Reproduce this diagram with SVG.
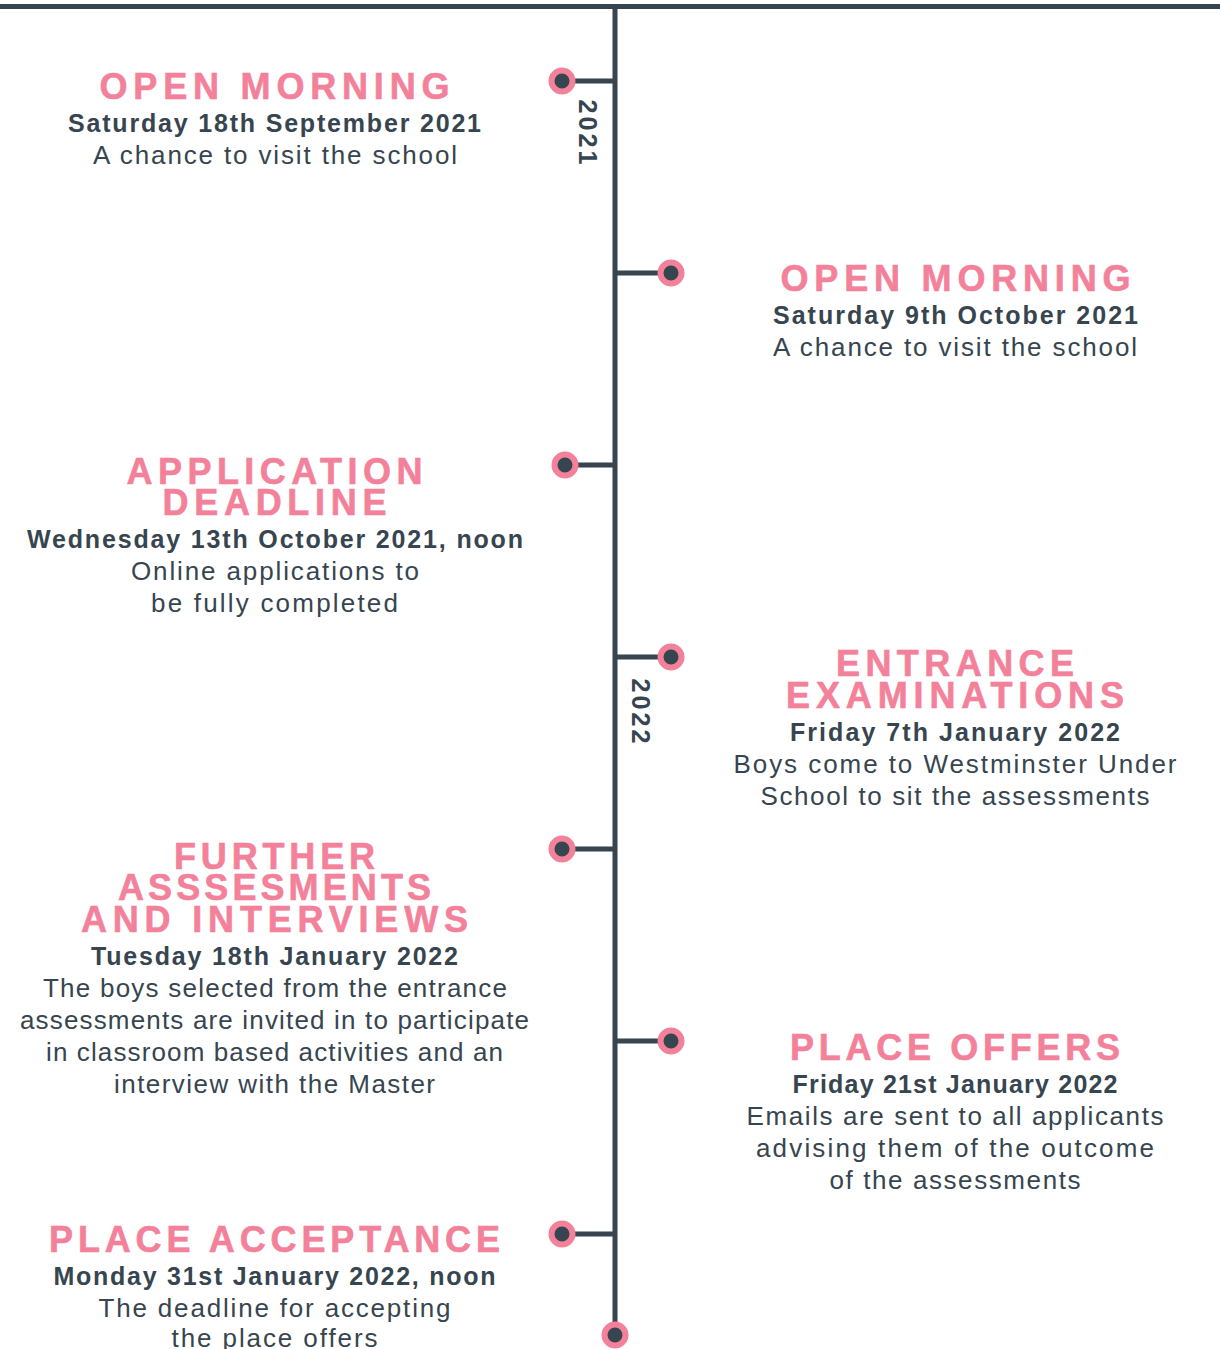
<svg xmlns="http://www.w3.org/2000/svg" width="1220" height="1349" viewBox="0 0 1220 1349">
<style>
.h{font-family:"Liberation Sans",Arial,sans-serif;font-weight:bold;font-size:36px;fill:#F3819A;stroke:#F3819A;stroke-width:0.6;text-anchor:middle}
.d{font-family:"Liberation Sans",Arial,sans-serif;font-weight:bold;font-size:25px;fill:#36454F;text-anchor:middle}
.t{font-family:"Liberation Sans",Arial,sans-serif;font-size:26px;fill:#36454F;text-anchor:middle}
.y{font-family:"Liberation Sans",Arial,sans-serif;font-weight:bold;font-size:25px;fill:#36454F;text-anchor:middle}
.ln{stroke:#36454F;stroke-width:5;fill:none}
.dot{fill:#36454F;stroke:#F3819A;stroke-width:6}
</style>
<rect width="1220" height="1349" fill="#ffffff"/>
<g id="connectors">
<line class="ln" x1="0" y1="6.5" x2="1220" y2="6.5"/>
<line class="ln" x1="615" y1="6" x2="615" y2="1335"/>
<line class="ln" x1="562" y1="81" x2="615" y2="81"/>
<line class="ln" x1="615" y1="273" x2="671" y2="273"/>
<line class="ln" x1="565" y1="465" x2="615" y2="465"/>
<line class="ln" x1="615" y1="657" x2="671" y2="657"/>
<line class="ln" x1="562" y1="849" x2="615" y2="849"/>
<line class="ln" x1="615" y1="1041" x2="671" y2="1041"/>
<line class="ln" x1="562" y1="1234" x2="615" y2="1234"/>
</g>
<g id="year-2021"><text class="y" transform="translate(579,132) rotate(90)" textLength="65" lengthAdjust="spacing">2021</text></g>
<g id="year-2022"><text class="y" transform="translate(632,711) rotate(90)" textLength="65" lengthAdjust="spacing">2022</text></g>
<g id="node-open-morning-1">
<circle class="dot" cx="562" cy="81" r="10.5"/>
<text class="h" x="274.5" y="99" textLength="350" lengthAdjust="spacing">OPEN MORNING</text>
<text class="d" x="274.5" y="132" textLength="413" lengthAdjust="spacing">Saturday 18th September 2021</text>
<text class="t" x="275" y="164" textLength="364" lengthAdjust="spacing">A chance to visit the school</text>
</g>
<g id="node-open-morning-2">
<circle class="dot" cx="671" cy="273" r="10.5"/>
<text class="h" x="955.5" y="291" textLength="350" lengthAdjust="spacing">OPEN MORNING</text>
<text class="d" x="955.5" y="324" textLength="365" lengthAdjust="spacing">Saturday 9th October 2021</text>
<text class="t" x="955" y="356" textLength="364" lengthAdjust="spacing">A chance to visit the school</text>
</g>
<g id="node-application-deadline">
<circle class="dot" cx="565" cy="465" r="10.5"/>
<text class="h" x="274.5" y="484" textLength="296" lengthAdjust="spacing">APPLICATION</text>
<text class="h" x="274.5" y="515" textLength="224" lengthAdjust="spacing">DEADLINE</text>
<text class="d" x="275" y="548" textLength="496" lengthAdjust="spacing">Wednesday 13th October 2021, noon</text>
<text class="t" x="275" y="580" textLength="288" lengthAdjust="spacing">Online applications to</text>
<text class="t" x="274.5" y="612" textLength="247" lengthAdjust="spacing">be fully completed</text>
</g>
<g id="node-entrance-examinations">
<circle class="dot" cx="671" cy="657" r="10.5"/>
<text class="h" x="955" y="676" textLength="238" lengthAdjust="spacing">ENTRANCE</text>
<text class="h" x="955" y="708" textLength="338" lengthAdjust="spacing">EXAMINATIONS</text>
<text class="d" x="955" y="741" textLength="330" lengthAdjust="spacing">Friday 7th January 2022</text>
<text class="t" x="955" y="773" textLength="443" lengthAdjust="spacing">Boys come to Westminster Under</text>
<text class="t" x="955" y="805" textLength="389" lengthAdjust="spacing">School to sit the assessments</text>
</g>
<g id="node-further-assessments">
<circle class="dot" cx="562" cy="849" r="10.5"/>
<text class="h" x="274.5" y="869" textLength="201" lengthAdjust="spacing">FURTHER</text>
<text class="h" x="274.5" y="900" textLength="313" lengthAdjust="spacing">ASSSESMENTS</text>
<text class="h" x="274.5" y="932" textLength="387" lengthAdjust="spacing">AND INTERVIEWS</text>
<text class="d" x="274.5" y="965" textLength="367" lengthAdjust="spacing">Tuesday 18th January 2022</text>
<text class="t" x="275" y="997" textLength="464" lengthAdjust="spacing">The boys selected from the entrance</text>
<text class="t" x="274.5" y="1029" textLength="509" lengthAdjust="spacing">assessments are invited in to participate</text>
<text class="t" x="274.5" y="1061" textLength="457" lengthAdjust="spacing">in classroom based activities and an</text>
<text class="t" x="274.5" y="1093" textLength="321" lengthAdjust="spacing">interview with the Master</text>
</g>
<g id="node-place-offers">
<circle class="dot" cx="671" cy="1041" r="10.5"/>
<text class="h" x="955" y="1060" textLength="330" lengthAdjust="spacing">PLACE OFFERS</text>
<text class="d" x="955" y="1093" textLength="325" lengthAdjust="spacing">Friday 21st January 2022</text>
<text class="t" x="955" y="1125" textLength="417" lengthAdjust="spacing">Emails are sent to all applicants</text>
<text class="t" x="955" y="1157" textLength="398" lengthAdjust="spacing">advising them of the outcome</text>
<text class="t" x="955" y="1189" textLength="251" lengthAdjust="spacing">of the assessments</text>
</g>
<g id="node-place-acceptance">
<circle class="dot" cx="562" cy="1234" r="10.5"/>
<text class="h" x="274.5" y="1252" textLength="451" lengthAdjust="spacing">PLACE ACCEPTANCE</text>
<text class="d" x="274.5" y="1285" textLength="442" lengthAdjust="spacing">Monday 31st January 2022, noon</text>
<text class="t" x="274.5" y="1317" textLength="352" lengthAdjust="spacing">The deadline for accepting</text>
<text class="t" x="274.5" y="1347" textLength="206" lengthAdjust="spacing">the place offers</text>
</g>
<g id="node-end">
<circle class="dot" cx="615" cy="1335" r="10.5"/>
</g>
</svg>
